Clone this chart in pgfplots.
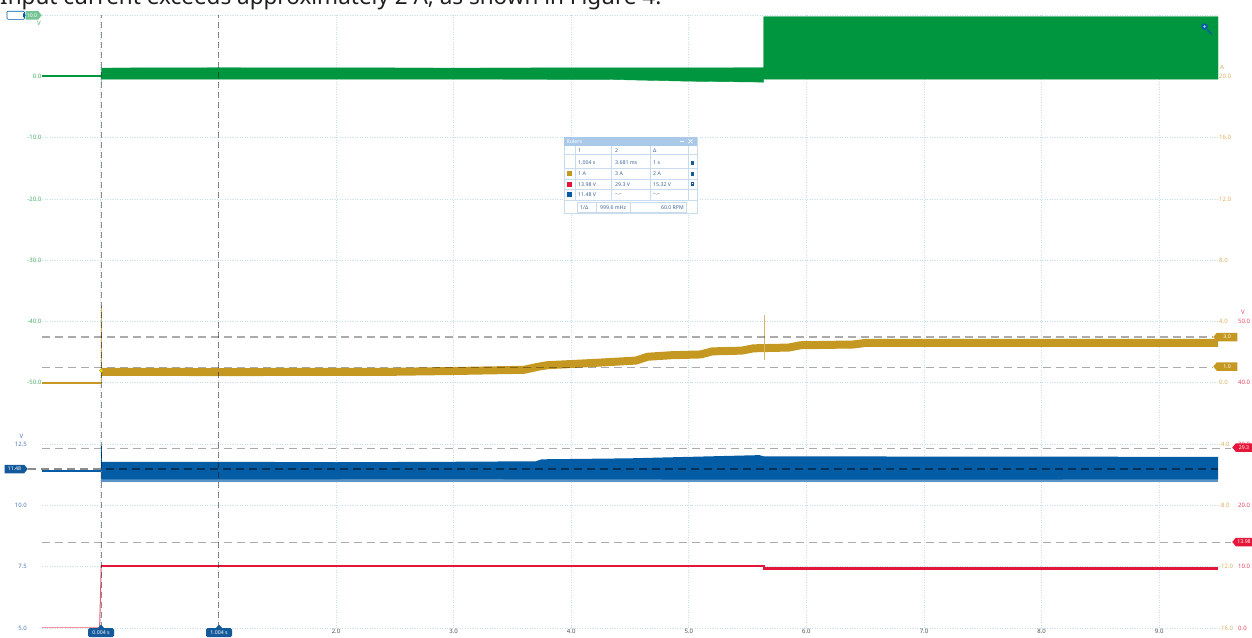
\documentclass[border=0pt]{standalone}
\usepackage{pgfplots}
\pgfplotsset{compat=1.18}
\usepackage{fontspec}
\setmainfont{Noto Sans}
\usetikzlibrary{shapes.symbols}
\definecolor{cgreen}{RGB}{0,150,64}
\definecolor{cyel}{RGB}{197,152,33}
\definecolor{cblue}{RGB}{4,92,165}
\definecolor{cred}{RGB}{228,22,58}
\definecolor{lgreen}{RGB}{70,175,100}
\definecolor{lblue}{RGB}{70,120,180}
\definecolor{lyel}{RGB}{215,175,95}
\definecolor{lred}{RGB}{230,70,95}
\definecolor{gridc}{RGB}{195,222,238}
\definecolor{tagblue}{RGB}{20,90,155}
\definecolor{rtxt}{RGB}{60,100,150}
\definecolor{rhead}{RGB}{170,200,232}
\definecolor{rline}{RGB}{200,220,238}
\newcommand\lab{\fontsize{6}{7}\selectfont}
\newcommand\rul{\fontsize{5.2}{6}\selectfont}
\newcommand\tagf{\fontsize{5.2}{6}\selectfont}
\pgfplotsset{
  gch/.style={y filter/.expression={y/10+9}},
  ych/.style={y filter/.expression={y/4+4}},
  bch/.style={y filter/.expression={(y-5)/2.5}},
  rch/.style={y filter/.expression={y/10}},
}
\begin{document}
\begin{tikzpicture}
\useasboundingbox (0pt,0pt) rectangle (1252pt,-637pt);
\begin{axis}[
  at={(42pt,-628pt)}, anchor=south west, scale only axis,
  width=1176pt, height=613pt,
  xmin=-0.5, xmax=9.5, ymin=0, ymax=10, clip=false,
  axis line style={draw=none}, major tick length=0pt, tick style={draw=none},
  xtick={0,...,9}, xticklabels={,,2.0,3.0,4.0,5.0,6.0,7.0,8.0,9.0},
  ytick={0,...,10}, yticklabels={},
  grid=major, grid style={gridc, line width=0.8pt, dash pattern=on 1pt off 1.5pt},
  xticklabel style={font=\lab, text=black!70, inner sep=1pt},
]
% green channel
\addplot[cgreen, line width=1.5pt, gch] coordinates {(-0.5,0.05)(0.004,0.05)};
\addplot[fill=cgreen, draw=cgreen, line width=0.4pt, gch] coordinates {
 (0.004,-0.9)(0.004,1.35)(1,1.4)(3,1.35)(5.637,1.4)(5.637,9.72)(9.5,9.72)(9.5,-0.45)
 (5.637,-0.45)(5.637,-0.95)(5.0,-0.8)(4.3,-0.5)(2,-0.45)(0.004,-0.45)} -- cycle;
% yellow channel
\addplot[cyel, line width=2pt, ych] coordinates {(-0.5,0.0)(0.004,0.0)};
\addplot[cyel!80!white, line width=0.8pt, ych] coordinates {(0.004,0.0)(0.004,5.0)};
\addplot[cyel, line width=8pt, line join=round, ych] coordinates {
 (0.004,0.72)(1.0,0.70)(2.5,0.72)(3.0,0.77)(3.6,0.85)(3.72,1.05)(3.8,1.15)(4.2,1.3)
 (4.55,1.45)(4.65,1.7)(4.85,1.8)(5.1,1.85)(5.2,2.05)(5.45,2.1)(5.55,2.25)(5.85,2.3)
 (5.95,2.45)(6.4,2.5)(6.5,2.6)(9.5,2.6)};
\addplot[cyel!70!white, line width=1pt, ych] coordinates {(5.64,1.5)(5.64,4.4)};
\addplot[only marks, mark=*, mark size=1.8pt, mark options={fill=yellow, draw=cyel}, ych] coordinates {(0.004,0.8)};
% blue channel
\addplot[cblue, line width=2pt, bch] coordinates {(-0.5,11.41)(0.004,11.41)};
\addplot[fill=cblue!65!white, draw=none, bch] coordinates {
 (0.004,11.1)(9.5,11.1)(9.5,10.95)(0.004,10.95)} -- cycle;
\addplot[fill=cblue, draw=none, bch] coordinates {
 (0.004,11.78)(1,11.78)(2,11.76)(3,11.78)(3.7,11.8)(3.75,11.88)(4.5,11.92)(5.0,11.98)
 (5.6,12.05)(5.64,12.0)(9.5,11.98)(9.5,11.06)(5.64,11.05)(3,11.07)(0.004,11.06)} -- cycle;
\addplot[cblue, line width=1pt, bch] coordinates {(0.004,11.4)(0.004,12.42)};
% red channel
\addplot[cred!45!white, line width=1.2pt, rch] coordinates {(-0.5,0.05)(0.0,0.05)};
\addplot[cred!70!white, line width=1pt, rch] coordinates {(-0.01,0.1)(0.004,10.1)};
\addplot[cred, line width=2.6pt, rch] coordinates {(0.004,10.1)(5.64,10.1)(5.64,9.68)(9.5,9.68)};
% cursors
\draw[black, opacity=0.33, line width=1.5pt, dash pattern=on 8pt off 5pt] (axis cs:-0.5,4.75) -- (axis cs:9.452,4.75);
\draw[black, opacity=0.33, line width=1.5pt, dash pattern=on 8pt off 5pt] (axis cs:-0.5,4.25) -- (axis cs:9.452,4.25);
\draw[black, opacity=0.33, line width=1.5pt, dash pattern=on 8pt off 5pt] (axis cs:-0.5,2.93) -- (axis cs:9.614,2.93);
\draw[black, opacity=0.33, line width=1.5pt, dash pattern=on 8pt off 5pt] (axis cs:-0.5,1.398) -- (axis cs:9.614,1.398);
\draw[black, opacity=0.45, line width=1.5pt, dash pattern=on 8pt off 5pt] (axis cs:-0.616,2.592) -- (axis cs:9.5,2.592);
\draw[black, opacity=0.45, line width=1.1pt, dash pattern=on 6pt off 4pt] (axis cs:0.004,0) -- (axis cs:0.004,10);
\draw[black, opacity=0.45, line width=1.1pt, dash pattern=on 6pt off 4pt] (axis cs:1.004,0) -- (axis cs:1.004,10);
\end{axis}
\begin{scope}[x=1pt,y=-1pt]
% title (cut off at top, as in the reference)
\node[anchor=base west, font=\fontsize{22.5}{26}\selectfont, text=black!88, inner sep=0] at (0,4.5) {Input current exceeds approximately 2 A, as shown in Figure 4.};
% left labels
\foreach \d/\t in {9/0.0,8/-10.0,7/-20.0,6/-30.0,5/-40.0,4/-50.0}
  \node[anchor=east, text=lgreen, font=\lab, inner sep=0] at (41.5,{628-61.3*\d}) {\t};
\foreach \d/\t in {3/12.5,2/10.0,1/7.5,0/5.0}
  \node[anchor=east, text=lblue, font=\lab, inner sep=0] at (27,{628-61.3*\d}) {\t};
\node[text=lblue, font=\lab, inner sep=0] at (21.5,436) {V};
\node[text=lgreen, font=\lab, inner sep=0] at (39,23) {V};
% right labels
\foreach \d/\t in {9/20.0,8/16.0,7/12.0,6/8.0,5/4.0,4/0.0,3/-4.0,2/-8.0,1/-12.0,0/-16.0}
  \node[anchor=west, text=lyel, font=\lab, inner sep=0] at (1219,{628-61.3*\d}) {\t};
\node[anchor=west, text=lyel, font=\lab, inner sep=0] at (1220,67) {A};
\foreach \d/\t in {5/50.0,4/40.0,3/30.0,2/20.0,1/10.0,0/0.0}
  \node[anchor=west, text=lred, font=\lab, inner sep=0] at (1238,{628-61.3*\d}) {\t};
\node[anchor=west, text=lred, font=\lab, inner sep=0] at (1241,312.5) {V};
% right tags
\tikzset{sig/.style={signal, font=\tagf, text=white, inner sep=0.6pt, minimum height=8.5pt, signal pointer angle=100}}
\node[sig, signal to=west, fill=cyel, anchor=west, minimum width=24pt] at (1213,337) {3.0};
\node[sig, signal to=west, fill=cyel, anchor=west, minimum width=24pt] at (1213,366.5) {1.0};
\node[sig, signal to=west, fill=cred, anchor=west, minimum width=20pt] at (1232,447.5) {29.3};
\node[sig, signal to=west, fill=cred, anchor=west, minimum width=20pt] at (1232,542) {13.98};
% left tags
\node[sig, signal to=east, fill=tagblue, anchor=east, minimum width=23pt] at (28,469) {11.48};
\draw[cblue, fill=white, line width=0.6pt, rounded corners=1pt] (7,11.2) rectangle (24.5,19.3);
\fill[cblue] (23,13) -- (26,15.25) -- (23,17.5) -- cycle;
\node[sig, signal to=east, fill=cgreen!55!white, anchor=east, minimum width=16pt] at (42,15.25) {10.0};
% bottom cursor tags
\foreach \xx/\t in {101/0.004 s,219/1.004 s}{
  \fill[tagblue] (\xx-3.5,628.5) -- (\xx,624.5) -- (\xx+3.5,628.5) -- cycle;
  \node[fill=tagblue, text=white, font=\tagf, rounded corners=1.5pt, minimum width=26pt, minimum height=9pt, inner sep=0.5pt] at (\xx,632.5) {\t};
}
% magnifier
\draw[cblue, line width=1.4pt] (1207,29.5) -- (1212,34.5);
\fill[cblue] (1204.5,26.5) circle (3.3);
\fill[cblue!35!white] (1204.5,26.5) circle (1.3);
% rulers box
\draw[rline, fill=white, line width=0.6pt] (564,137) rectangle (697,213.5);
\fill[rhead] (564,137) rectangle (697,145.5);
\node[anchor=west, text=white, font=\rul\bfseries, inner sep=0] at (566.5,141.3) {Rulers};
\draw[white, line width=0.6pt] (680,141.3) -- (684,141.3);
\draw[white, line width=0.6pt] (688.5,139.3) -- (692.5,143.3) (688.5,143.3) -- (692.5,139.3);
\foreach \yy in {154.7,167.8,179,189.4,200.4} \draw[rline, line width=0.5pt] (564,\yy) -- (697,\yy);
\foreach \xx in {575.5,611.5,650,688} \draw[rline, line width=0.5pt] (\xx,145.5) -- (\xx,200.4);
\draw[rline, line width=0.5pt] (577,202) rectangle (596,212);
\draw[rline, line width=0.5pt] (596,202) rectangle (630,212);
\draw[rline, line width=0.5pt] (630,202) rectangle (686,212);
\tikzset{rt/.style={anchor=west, text=rtxt, font=\rul, inner sep=0}}
\node[rt] at (578,150.3) {1};
\node[rt] at (615,150.3) {2};
\node[rt] at (653,150.3) {Δ};
\node[rt] at (578,162.6) {1.004 s};
\node[rt] at (615,162.6) {3.681 ms};
\node[rt] at (653,162.6) {1 s};
\node[rt] at (578,173.8) {1 A};
\node[rt] at (615,173.8) {3 A};
\node[rt] at (653,173.8) {2 A};
\node[rt] at (578,184.4) {13.98 V};
\node[rt] at (615,184.4) {29.3 V};
\node[rt] at (653,184.4) {15.32 V};
\node[rt] at (578,194.8) {11.48 V};
\node[rt] at (615,194.8) {--.--};
\node[rt] at (653,194.8) {--.--};
\node[rt] at (580,207.3) {1/Δ};
\node[rt] at (600,207.3) {999.6 mHz};
\node[rt, anchor=east] at (684,207.3) {60.0 RPM};
\fill[cyel] (566.5,171.3) rectangle (571.5,176.3);
\fill[cred] (566.5,181.9) rectangle (571.5,186.9);
\fill[cblue] (566.5,192.3) rectangle (571.5,197.3);
% lock icons
\foreach \yy/\op in {162.6/0,173.8/1,184.4/1}{
  \fill[tagblue] (690.5,\yy-0.5) rectangle (694,\yy+2);
  \draw[tagblue, line width=0.5pt] (691.2,\yy-0.5) -- (691.2,\yy-1.8) -- (693.3,\yy-1.8) -- (693.3,{\yy-0.5-\op*1.2});
}
\end{scope}
\end{tikzpicture}
\end{document}
